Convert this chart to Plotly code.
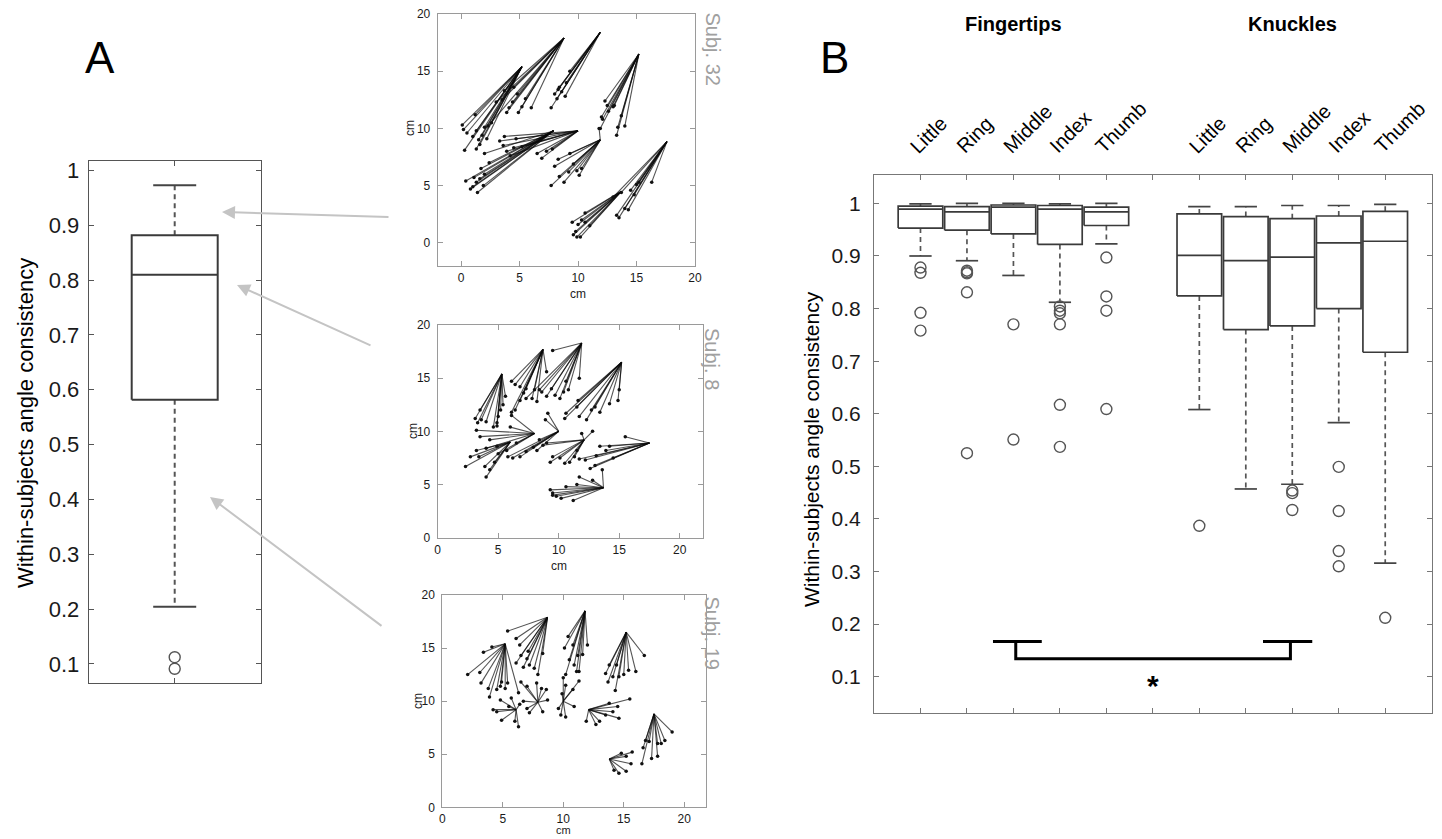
import plotly.graph_objects as go

W, H = 1442, 839
FONT = "Liberation Sans, Arial, sans-serif"

# ---------------- Panel A data ----------------
a_lo, a_q1, a_med, a_q3, a_hi = 0.204, 0.582, 0.810, 0.882, 0.973
a_outliers = [0.112, 0.091]

# ---------------- Panel B data ----------------
b_groups = ["Fingertips", "Knuckles"]
b_fingers = ["Little", "Ring", "Middle", "Index", "Thumb"]
b_pos = [1, 2, 3, 4, 5, 7, 8, 9, 10, 11]
b_lo = [0.900, 0.891, 0.863, 0.812, 0.923, 0.608, 0.457, 0.466, 0.583, 0.316]
b_q1 = [0.953, 0.949, 0.942, 0.922, 0.958, 0.824, 0.760, 0.767, 0.800, 0.717]
b_med = [0.989, 0.984, 0.993, 0.989, 0.984, 0.901, 0.891, 0.898, 0.925, 0.928]
b_q3 = [0.995, 0.994, 0.997, 0.996, 0.993, 0.980, 0.975, 0.971, 0.976, 0.985]
b_hi = [0.999, 1.000, 1.000, 0.999, 1.000, 0.994, 0.994, 0.996, 0.996, 0.998]
b_outliers = [
    [0.878, 0.868, 0.792, 0.758],
    [0.872, 0.867, 0.869, 0.831, 0.525],
    [0.770, 0.551],
    [0.804, 0.796, 0.791, 0.770, 0.617, 0.537],
    [0.897, 0.823, 0.796, 0.609],
    [0.387],
    [],
    [0.454, 0.449, 0.417],
    [0.499, 0.415, 0.339, 0.310],
    [0.212],
]

# ---------------- Vector plots data (apex -> perceived end points, cm) ----------------
s32_apex = [(5.2, 15.4), (8.8, 17.9), (11.9, 18.4), (15.2, 16.5), (17.6, 8.85),
            (7.9, 9.8), (10.0, 9.8), (11.9, 9.0), (13.7, 4.5)]
s32_ends = [
    [(0.1, 10.3), (0.2, 9.9), (0.5, 9.6), (0.3, 8.1), (1.0, 9.3), (1.3, 9.8), (1.5, 9.0), (1.8, 9.4),
     (1.3, 8.2), (1.6, 8.6), (2.2, 9.1), (2.0, 10.1), (1.2, 11.2), (2.6, 10.5)],
    [(3.5, 12.5), (3.9, 11.4), (4.1, 11.8), (4.4, 12.3), (3.7, 13.3), (4.9, 11.4), (5.2, 11.9),
     (5.5, 12.6), (6.0, 11.8), (4.5, 13.6), (3.0, 12.3), (4.8, 13.0), (2.3, 10.2)],
    [(8.0, 13.0), (8.2, 12.6), (8.6, 13.2), (8.9, 12.8), (7.7, 11.8), (9.0, 14.0), (8.4, 13.6),
     (9.3, 15.0), (8.3, 13.4)],
    [(12.0, 11.0), (12.3, 12.4), (12.6, 11.5), (13.0, 11.9), (13.4, 10.1), (13.7, 11.1), (14.0, 10.2),
     (13.3, 9.4), (12.5, 12.0), (12.1, 10.8), (13.1, 12.0), (11.9, 10.0)],
    [(13.0, 4.0), (13.3, 2.4), (13.5, 2.2), (14.0, 3.0), (14.3, 2.9), (14.5, 4.6), (15.0, 5.1),
     (15.2, 5.3), (16.3, 5.3), (14.8, 4.2), (13.7, 4.4)],
    [(0.4, 5.4), (0.8, 4.7), (1.0, 4.9), (1.4, 4.4), (1.3, 5.3), (1.6, 5.6), (2.0, 6.0), (1.1, 5.7),
     (1.9, 5.0), (2.4, 7.0), (1.7, 6.5), (2.0, 7.8)],
    [(3.7, 9.3), (3.6, 8.5), (3.9, 8.0), (4.2, 7.6), (4.5, 8.3), (3.3, 8.9), (4.7, 9.1), (6.5, 7.8),
     (6.9, 7.4), (7.3, 8.0), (7.8, 8.2), (5.2, 8.4)],
    [(7.7, 5.0), (8.0, 6.7), (8.4, 5.8), (8.8, 5.3), (9.2, 6.2), (9.6, 6.9), (9.9, 6.3), (10.3, 6.5),
     (10.1, 5.9), (8.3, 7.3), (9.3, 7.8), (11.8, 10.0)],
    [(9.5, 1.8), (9.6, 0.7), (9.9, 0.5), (10.2, 0.5), (10.0, 1.6), (10.3, 2.0), (10.6, 2.6),
     (11.0, 1.5), (9.8, 1.0), (10.6, 1.8)],
]

s8_apex = [(5.3, 15.4), (8.7, 17.7), (11.9, 18.3), (15.2, 16.5), (17.5, 8.9),
           (13.7, 4.7), (12.1, 9.2), (10.0, 10.0), (8.0, 9.8), (6.0, 9.0)]
s8_ends = [
    [(3.1, 11.2), (3.3, 10.8), (3.6, 11.1), (4.0, 10.9), (4.6, 10.4), (4.9, 10.8), (5.0, 11.4),
     (5.2, 12.0), (5.4, 12.5), (5.6, 13.3), (4.9, 10.5), (3.5, 12.0)],
    [(6.1, 14.7), (6.4, 14.4), (6.8, 14.2), (7.1, 13.6), (7.3, 14.0), (7.8, 13.1), (8.0, 13.9),
     (8.2, 12.8), (6.4, 12.0), (6.8, 12.9), (9.0, 15.6), (6.1, 11.8)],
    [(8.6, 13.7), (9.0, 13.3), (9.4, 14.0), (9.7, 13.4), (10.1, 13.1), (10.4, 13.7), (10.8, 13.9),
     (10.6, 14.7), (8.4, 13.9), (9.5, 17.6), (11.7, 15.0), (7.3, 13.1)],
    [(10.5, 11.2), (10.6, 11.7), (11.5, 12.3), (11.7, 11.4), (12.3, 11.1), (12.7, 12.0), (13.4, 11.8),
     (14.2, 12.6), (14.9, 12.9), (15.0, 13.9), (11.6, 12.9), (13.0, 12.3)],
    [(11.7, 7.4), (12.2, 7.3), (12.6, 6.5), (13.0, 6.8), (13.4, 8.6), (13.9, 8.2), (14.5, 7.5),
     (15.5, 9.5), (14.2, 8.6), (13.1, 7.7)],
    [(9.3, 4.5), (9.5, 4.0), (9.8, 3.9), (10.2, 3.7), (11.2, 3.5), (10.6, 4.8), (11.5, 5.0),
     (11.7, 5.7), (12.8, 5.4), (13.6, 6.4), (9.5, 4.2)],
    [(9.3, 7.1), (9.5, 7.6), (10.1, 7.5), (10.5, 7.0), (10.9, 7.1), (11.3, 7.6), (11.5, 8.2),
     (9.0, 8.9), (12.8, 10.0), (11.9, 9.8), (8.7, 8.7)],
    [(8.2, 8.2), (7.3, 8.1), (6.8, 7.6), (6.2, 7.5), (8.4, 9.2), (9.1, 11.7), (8.9, 11.1), (7.9, 8.5),
     (5.8, 7.6)],
    [(6.0, 10.4), (4.3, 9.2), (3.5, 9.5), (4.0, 8.4), (5.0, 7.9), (6.1, 11.5), (6.5, 8.9), (5.7, 8.2),
     (3.2, 10.1)],
    [(2.3, 6.7), (2.7, 7.6), (3.2, 8.2), (3.9, 6.7), (4.0, 5.7), (4.3, 6.4), (4.7, 7.1), (3.4, 7.6),
     (4.9, 8.6)],
]

s19_apex = [(5.2, 15.4), (8.7, 17.9), (11.8, 18.5), (15.2, 16.5), (17.5, 8.8),
            (13.8, 4.55), (12.1, 9.2), (10.0, 10.0), (7.9, 9.9), (6.1, 9.2)]
s19_ends = [
    [(2.1, 12.5), (3.1, 12.7), (3.2, 11.7), (3.8, 11.2), (3.9, 10.4), (4.5, 11.1), (4.8, 11.4),
     (4.9, 11.8), (5.2, 11.2), (5.4, 11.7), (6.3, 10.8), (4.1, 15.1), (3.4, 14.6)],
    [(5.4, 16.6), (6.1, 15.9), (6.4, 15.3), (6.1, 13.6), (6.5, 14.3), (7.0, 14.0), (7.2, 13.4),
     (7.6, 13.1), (7.9, 12.5), (7.1, 14.7), (6.7, 13.2), (8.3, 14.5)],
    [(10.1, 15.0), (10.2, 12.5), (10.5, 13.9), (10.9, 13.4), (11.2, 14.3), (11.3, 12.8), (11.6, 14.4),
     (12.0, 15.3), (10.8, 15.3), (10.4, 16.1), (11.1, 12.8)],
    [(13.5, 12.6), (13.7, 11.8), (14.1, 12.3), (14.3, 11.0), (14.6, 12.3), (15.0, 12.5), (15.4, 12.9),
     (16.0, 12.8), (16.7, 14.3), (14.4, 13.4), (13.8, 13.4)],
    [(16.5, 4.1), (16.6, 5.6), (16.8, 6.3), (17.3, 4.6), (17.8, 4.8), (18.1, 6.0), (18.4, 6.3),
     (19.0, 7.1), (17.1, 6.2), (17.8, 6.0)],
    [(15.2, 3.4), (15.6, 4.1), (15.7, 5.2), (14.6, 3.2), (14.2, 3.5), (15.2, 4.8), (14.8, 5.1)],
    [(11.9, 8.1), (12.7, 7.8), (13.5, 8.7), (14.5, 9.5), (15.5, 10.2), (14.6, 8.4), (14.1, 9.0),
     (13.0, 8.1), (13.8, 9.8)],
    [(9.8, 8.7), (10.2, 8.5), (9.6, 9.3), (10.9, 9.5), (11.3, 11.9), (10.8, 11.1), (10.2, 11.5),
     (10.0, 12.2), (9.9, 10.7)],
    [(6.5, 11.8), (7.0, 11.4), (7.8, 11.7), (8.2, 11.2), (8.6, 11.1), (7.0, 9.3), (7.2, 8.9),
     (8.3, 9.0), (6.7, 10.0), (8.7, 10.1)],
    [(4.2, 9.2), (4.9, 8.2), (5.5, 9.5), (4.8, 10.1), (6.3, 7.6), (6.0, 8.1), (5.7, 10.3), (6.4, 9.7),
     (4.5, 9.0)],
]


def X(px):
    return px / W


def Y(py):
    return 1 - py / H


fig = go.Figure()


# ---------- helpers for MATLAB-style boxplots ----------
def add_boxes(pos, lo, q1, med, q3, hi, outs, width, xa, ya, lw):
    bx, by, wx, wy, cx, cy, ox, oy = [], [], [], [], [], [], [], []
    for i, p in enumerate(pos):
        l, r = p - width / 2, p + width / 2
        bx += [l, r, r, l, l, None, l, r, None]
        by += [q1[i], q1[i], q3[i], q3[i], q1[i], None, med[i], med[i], None]
        wx += [p, p, None, p, p, None]
        wy += [q3[i], hi[i], None, q1[i], lo[i], None]
        c = width / 4
        cx += [p - c, p + c, None, p - c, p + c, None]
        cy += [hi[i], hi[i], None, lo[i], lo[i], None]
        for o in outs[i]:
            ox.append(p)
            oy.append(o)
    fig.add_trace(go.Scatter(x=wx, y=wy, mode="lines", xaxis=xa, yaxis=ya,
                             line=dict(color="#555555", width=lw, dash="5px,4px"),
                             hoverinfo="skip", showlegend=False))
    fig.add_trace(go.Scatter(x=cx, y=cy, mode="lines", xaxis=xa, yaxis=ya,
                             line=dict(color="#444444", width=lw),
                             hoverinfo="skip", showlegend=False))
    fig.add_trace(go.Scatter(x=bx, y=by, mode="lines", xaxis=xa, yaxis=ya,
                             line=dict(color="#3a3a3a", width=lw),
                             hoverinfo="skip", showlegend=False))
    fig.add_trace(go.Scatter(x=ox, y=oy, mode="markers", xaxis=xa, yaxis=ya,
                             marker=dict(symbol="circle-open", size=11, color="#555555",
                                         line=dict(width=1.4, color="#555555")),
                             hoverinfo="skip", showlegend=False))


add_boxes([1], [a_lo], [a_q1], [a_med], [a_q3], [a_hi], [a_outliers], 0.5, "x", "y", 2)
add_boxes(b_pos, b_lo, b_q1, b_med, b_q3, b_hi, b_outliers, 0.96, "x5", "y5", 1.7)


def add_fans(apex, ends, xa, ya):
    lx, ly, ex, ey = [], [], [], []
    for (ax_, ay_), pts in zip(apex, ends):
        for (x, y) in pts:
            lx += [ax_, x, None]
            ly += [ay_, y, None]
            ex.append(x)
            ey.append(y)
    fig.add_trace(go.Scatter(x=lx, y=ly, mode="lines", xaxis=xa, yaxis=ya,
                             line=dict(color="rgba(10,10,10,0.7)", width=1.1),
                             hoverinfo="skip", showlegend=False))
    fig.add_trace(go.Scatter(x=ex, y=ey, mode="markers", xaxis=xa, yaxis=ya,
                             marker=dict(size=3.5, color="#111111"),
                             hoverinfo="skip", showlegend=False))


add_fans(s32_apex, s32_ends, "x2", "y2")
add_fans(s8_apex, s8_ends, "x3", "y3")
add_fans(s19_apex, s19_ends, "x4", "y4")


# ---------- axes ----------
def ax_style(color, size, show_labels=True, **kw):
    d = dict(showline=True, linecolor=color, linewidth=1, mirror="ticks", ticks="inside",
             ticklen=5, tickcolor=color, showgrid=False, zeroline=False,
             showticklabels=show_labels, tickfont=dict(family=FONT, size=size, color="#1a1a1a"),
             fixedrange=True)
    d.update(kw)
    return d


yt = [0.1, 0.2, 0.3, 0.4, 0.5, 0.6, 0.7, 0.8, 0.9, 1.0]
ytt = ["0.1", "0.2", "0.3", "0.4", "0.5", "0.6", "0.7", "0.8", "0.9", "1"]
vt = [0, 5, 10, 15, 20]

fig.update_layout(
    xaxis=ax_style("#555555", 21, False, domain=[X(88.7), X(260.7)], range=[0.5, 1.5],
                   tickvals=[1], anchor="y"),
    yaxis=ax_style("#555555", 22, True, domain=[Y(683), Y(160.7)], range=[0.065, 1.018],
                   tickvals=yt, ticktext=ytt, anchor="x", ticklabelstandoff=4),
    xaxis2=ax_style("#9a9a9a", 12, True, domain=[X(437.7), X(695)], range=[-2, 20],
                    tickvals=vt, anchor="y2", ticklabelstandoff=1),
    yaxis2=ax_style("#9a9a9a", 12, True, domain=[Y(265.7), Y(14)], range=[-2, 20],
                    tickvals=vt, anchor="x2", ticklabelstandoff=4),
    xaxis3=ax_style("#9a9a9a", 12, True, domain=[X(437.7), X(702.7)], range=[0, 21.9],
                    tickvals=vt, anchor="y3", ticklabelstandoff=1),
    yaxis3=ax_style("#9a9a9a", 12, True, domain=[Y(537.7), Y(325)], range=[0, 20],
                    tickvals=vt, anchor="x3", ticklabelstandoff=4),
    xaxis4=ax_style("#9a9a9a", 12, True, domain=[X(442.3), X(706)], range=[0, 21.8],
                    tickvals=vt, anchor="y4", ticklabelstandoff=0),
    yaxis4=ax_style("#9a9a9a", 12, True, domain=[Y(807.3), Y(595)], range=[0, 20],
                    tickvals=vt, anchor="x4", ticklabelstandoff=4),
    xaxis5=ax_style("#777777", 21, False, domain=[X(874), X(1431.7)], range=[0, 12],
                    tickvals=[1, 2, 3, 4, 5, 6, 7, 8, 9, 10, 11], anchor="y5"),
    yaxis5=ax_style("#777777", 21, True, domain=[Y(713), Y(175)], range=[0.031, 1.054],
                    tickvals=yt, ticktext=ytt, anchor="x5", ticklabelstandoff=8),
    width=W, height=H, margin=dict(l=0, r=0, t=0, b=0, autoexpand=False),
    paper_bgcolor="white", plot_bgcolor="white", showlegend=False,
)


def txt(x, y, text, size, xref="paper", yref="paper", color="black", angle=0,
        xanchor="center", yanchor="middle", **kw):
    d = dict(x=x, y=y, xref=xref, yref=yref, text=text, showarrow=False, textangle=angle,
             xanchor=xanchor, yanchor=yanchor, font=dict(family=FONT, size=size, color=color))
    d.update(kw)
    return d


ann = []
ann.append(txt(X(100), Y(57), "A", 44))
ann.append(txt(X(834), Y(58), "B", 44))
ann.append(txt(X(25), Y(423), "Within-subjects angle consistency", 22, angle=-90))
ann.append(txt(X(811), Y(449), "Within-subjects angle consistency", 21, angle=-90))
ann.append(txt(3, Y(24), "<b>" + b_groups[0] + "</b>", 20, xref="x5"))
ann.append(txt(9, Y(24), "<b>" + b_groups[1] + "</b>", 20, xref="x5"))
for i, p in enumerate(b_pos):
    ann.append(txt(p - 0.38, Y(160), b_fingers[i % 5], 20, xref="x5", angle=-45,
                   xanchor="left", yanchor="bottom"))
ann.append(txt(6, 0.098, "<b>*</b>", 30, xref="x5", yref="y5", yshift=-8))
for (cx, cy, cs), (lx, ly) in [((578, 294, 12), (410, 128)), ((559, 566, 12), (413, 431)),
                               ((563, 830, 11), (418, 701))]:
    ann.append(txt(X(cx), Y(cy), "cm", cs, color="#222222"))
    ann.append(txt(X(lx), Y(ly), "cm", 12, color="#222222", angle=-90))
for t, top in [("Subj. 32", 10), ("Subj. 8", 326), ("Subj. 19", 594)]:
    ann.append(txt(X(712), Y(top), t, 20, color="#a0a0a0", angle=90, yanchor="top"))
for (hx, hy), (tx, ty) in [((222, 212), (390, 217)), ((237, 285), (372, 346)), ((210, 497), (383, 627))]:
    ann.append(dict(x=X(hx), y=Y(hy), xref="paper", yref="paper", ax=tx - hx, ay=ty - hy,
                    axref="pixel", ayref="pixel", text="", showarrow=True, arrowhead=2,
                    arrowsize=1.3, arrowwidth=2, arrowcolor="#c4c4c4"))
fig.update_layout(annotations=ann)

# significance bracket
fig.add_shape(type="path", xref="x5", yref="y5", line=dict(color="black", width=3),
              path="M 3.05 0.167 L 3.05 0.134 L 8.96 0.134 L 8.96 0.167")
fig.add_shape(type="line", xref="x5", yref="y5", x0=2.56, x1=3.61, y0=0.167, y1=0.167,
              line=dict(color="black", width=3))
fig.add_shape(type="line", xref="x5", yref="y5", x0=8.37, x1=9.43, y0=0.167, y1=0.167,
              line=dict(color="black", width=3))

fig.write_html("out.html", config={"displayModeBar": False},
               post_script="document.body.style.margin='0';document.body.style.padding='0';"
                           "document.body.style.overflow='hidden';")
